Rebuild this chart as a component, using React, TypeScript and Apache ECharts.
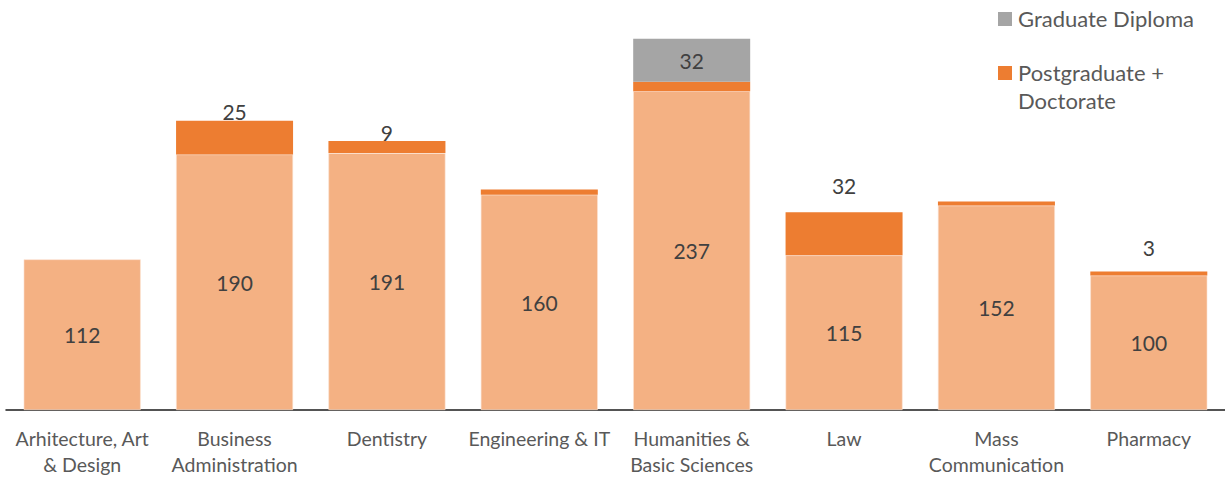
import React, { useEffect, useRef } from "react";
import * as echarts from "echarts";

const categories = [
  "Arhitecture, Art\n& Design",
  "Business\nAdministration",
  "Dentistry",
  "Engineering & IT",
  "Humanities &\nBasic Sciences",
  "Law",
  "Mass\nCommunication",
  "Pharmacy",
];
const undergraduate = [112, 190, 191, 160, 237, 115, 152, 100];
const postgraduate = [0, 25, 9, 4, 7, 32, 3, 3];
const graduateDiploma = [0, 0, 0, 0, 32, 0, 0, 0];
// which postgraduate values show a label, and how far above the bar
const postLabelShown = [false, true, true, false, false, true, false, true];
const postLabelDistance = [0, -1, -2, 0, 0, 16, 0, 13];

const FONT = "Lato, 'Open Sans', sans-serif";
const TEXT = "#595959";

export default function App() {
  const ref = useRef<HTMLDivElement>(null);
  useEffect(() => {
    if (!ref.current) return;
    const chart = echarts.init(ref.current, null, { renderer: "svg" });
    chart.setOption({
      animation: false,
      textStyle: { fontFamily: FONT },
      grid: { left: 6, right: 0, top: 6.5, bottom: 65.5, containLabel: false },
      xAxis: {
        type: "category",
        data: categories,
        axisLine: { lineStyle: { color: "#1a1a1a", width: 1.5 } },
        axisTick: { show: false },
        axisLabel: {
          interval: 0,
          fontSize: 19.5,
          color: TEXT,
          lineHeight: 26,
          margin: 15,
          fontFamily: FONT,
        },
      },
      yAxis: { type: "value", min: 0, max: 300, show: false },
      series: [
        {
          name: "Undergraduate",
          type: "bar",
          stack: "a",
          barWidth: 117,
          data: undergraduate,
          itemStyle: { color: "#F4B183", borderColor: "#FBE3D2", borderWidth: 0.6 },
          label: {
            show: true,
            position: "inside",
            fontSize: 21,
            color: "#404040",
            fontFamily: FONT,
          },
        },
        {
          name: "Postgraduate + Doctorate",
          type: "bar",
          stack: "a",
          barWidth: 117,
          data: postgraduate.map((v, i) => ({
            value: v === 0 ? "-" : v,
            label: {
              show: postLabelShown[i],
              position: "top",
              distance: postLabelDistance[i],
            },
          })),
          itemStyle: { color: "#ED7D31" },
          label: { fontSize: 21, color: "#404040", fontFamily: FONT },
        },
        {
          name: "Graduate Diploma",
          type: "bar",
          stack: "a",
          barWidth: 117,
          data: graduateDiploma.map((v) => (v === 0 ? "-" : v)),
          itemStyle: { color: "#A5A5A5" },
          label: {
            show: true,
            position: "inside",
            fontSize: 21,
            color: "#404040",
            fontFamily: FONT,
          },
        },
      ],
      graphic: [
        { type: "rect", left: 998, top: 12, shape: { width: 14, height: 14 }, style: { fill: "#A5A5A5" } },
        {
          type: "text",
          left: 1018,
          top: 7,
          style: { text: "Graduate Diploma", fontSize: 22, fill: TEXT, fontFamily: FONT },
        },
        { type: "rect", left: 998, top: 66, shape: { width: 14, height: 14 }, style: { fill: "#ED7D31" } },
        {
          type: "text",
          left: 1018,
          top: 58,
          style: {
            text: "Postgraduate +\nDoctorate",
            fontSize: 22,
            lineHeight: 28,
            fill: TEXT,
            fontFamily: FONT,
          },
        },
      ],
    });
    return () => chart.dispose();
  }, []);
  return (
    <div
      ref={ref}
      style={{ position: "absolute", left: 0, top: 0, width: 1225, height: 477 }}
    />
  );
}
